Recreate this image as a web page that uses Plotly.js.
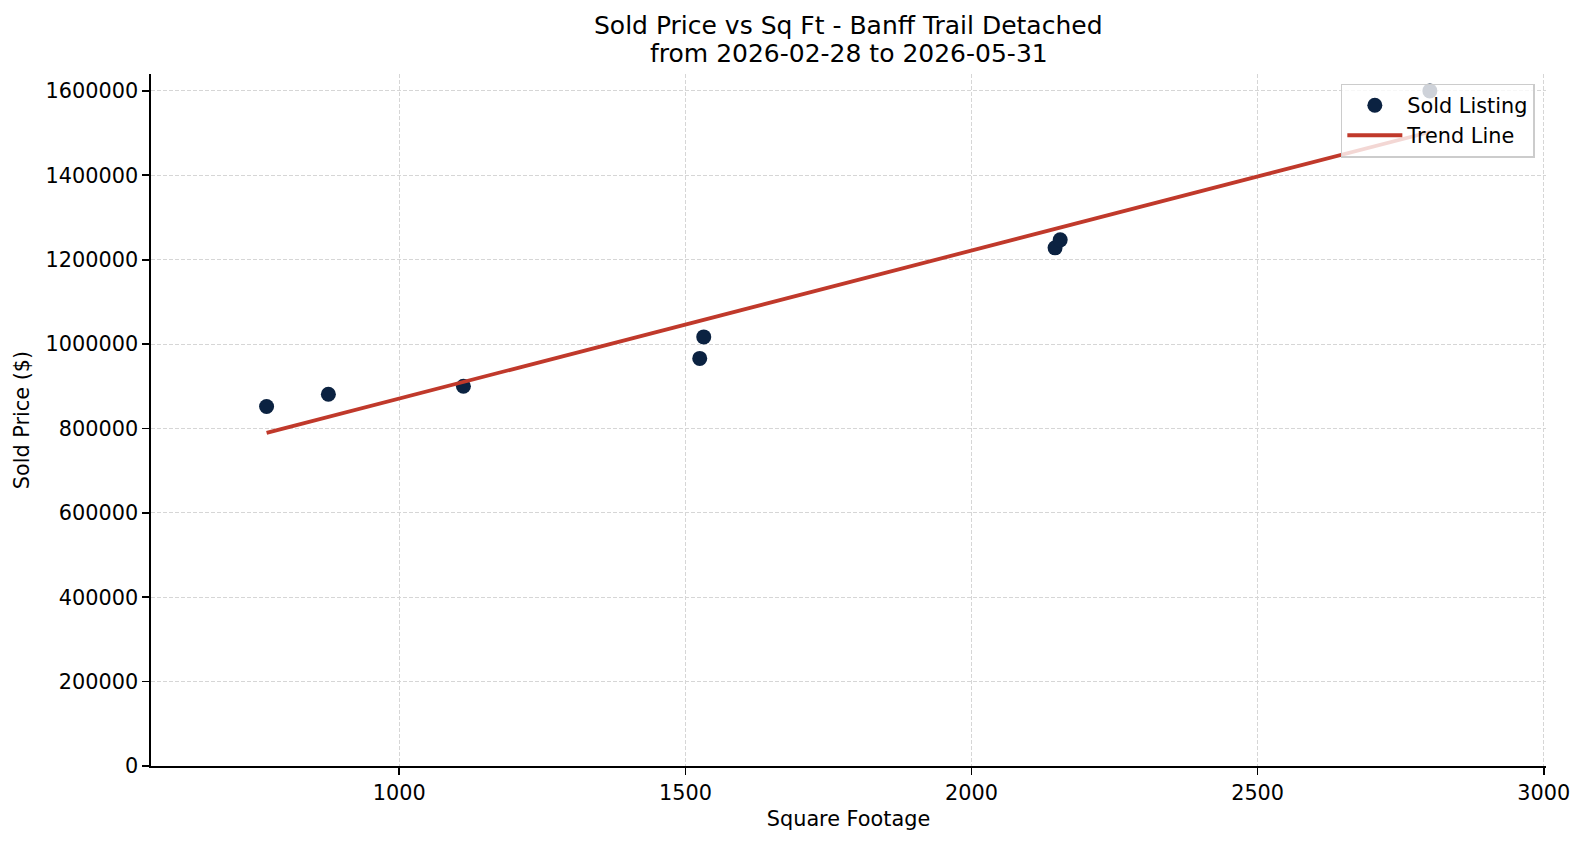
<!DOCTYPE html>
<html>
<head>
<meta charset="utf-8">
<script src="https://cdn.plot.ly/plotly-3.0.1.min.js"></script>
<style>
  html, body { margin: 0; padding: 0; background: #ffffff; }
  #chart { width: 1584px; height: 845px; }
</style>
</head>
<body>
<div id="chart"></div>
<script>
// Sold listings: living area (sq ft) and final sold price ($)
const sqft  = [768, 876, 1112, 1525, 1532, 2146, 2155, 2801];
const price = [852000, 881000, 900000, 966000, 1017000, 1228000, 1247000, 1600000];

const xTicks = [1000, 1500, 2000, 2500, 3000];
const yTicks = [0, 200000, 400000, 600000, 800000, 1000000, 1200000, 1400000, 1600000];

const titleLines = ['Sold Price vs Sq Ft - Banff Trail Detached', 'from 2026-02-28 to 2026-05-31'];

// Least-squares trend line over the sold listings
function linearFit(xs, ys) {
  const n = xs.length;
  const mx = xs.reduce((a, b) => a + b, 0) / n;
  const my = ys.reduce((a, b) => a + b, 0) / n;
  let sxy = 0, sxx = 0;
  for (let i = 0; i < n; i++) {
    sxy += (xs[i] - mx) * (ys[i] - my);
    sxx += (xs[i] - mx) * (xs[i] - mx);
  }
  const slope = sxy / sxx;
  return { slope, intercept: my - slope * mx };
}
const fit = linearFit(sqft, price);
const xMin = Math.min(...sqft), xMax = Math.max(...sqft);
const trendX = [xMin, xMax];
const trendY = trendX.map(v => fit.intercept + fit.slope * v);

const FONT = 'DejaVu Sans, Liberation Sans, sans-serif';

const traces = [
  {
    x: sqft, y: price, type: 'scatter', mode: 'markers', name: 'Sold Listing',
    marker: { color: '#0b2241', size: 15, line: { width: 0 } },
    hoverinfo: 'x+y'
  },
  {
    x: trendX, y: trendY, type: 'scatter', mode: 'lines', name: 'Trend Line',
    line: { color: '#c0392b', width: 3.8 },
    hoverinfo: 'skip'
  }
];

const axisCommon = {
  showline: true, linecolor: '#000000', linewidth: 1.7,
  ticks: 'outside', ticklen: 7, tickwidth: 1.7, tickcolor: '#000000',
  showgrid: true, gridcolor: '#d6d6d6', gridwidth: 1, griddash: '4px,2px',
  zeroline: false, mirror: false,
  tickfont: { family: FONT, size: 20.8, color: '#000000' },
  tickformat: 'd', automargin: false
};

// Two-line chart title, centred over the plot area
const titleAnnotations = [
  { text: titleLines[0], y: 1.0704 },
  { text: titleLines[1], y: 1.0296 }
].map(t => ({
  text: t.text, xref: 'paper', yref: 'paper', x: 0.5, y: t.y,
  xanchor: 'center', yanchor: 'middle', showarrow: false,
  font: { family: FONT, size: 25, color: '#000000' }
}));

const layout = {
  width: 1584, height: 845,
  paper_bgcolor: '#ffffff', plot_bgcolor: '#ffffff',
  font: { family: FONT, color: '#000000' },
  margin: { l: 151, r: 38, t: 74, b: 79 },
  annotations: titleAnnotations,
  xaxis: Object.assign({}, axisCommon, {
    range: [566, 3004],
    tickmode: 'array', tickvals: xTicks,
    title: { text: 'Square Footage', font: { family: FONT, size: 20.8, color: '#000000' }, standoff: 8 }
  }),
  yaxis: Object.assign({}, axisCommon, {
    range: [0, 1640000],
    tickmode: 'array', tickvals: yTicks,
    title: { text: 'Sold Price ($)', font: { family: FONT, size: 20.8, color: '#000000' }, standoff: 10 }
  }),
  showlegend: true,
  legend: {
    x: 0.992, xanchor: 'right', y: 0.986, yanchor: 'top',
    bgcolor: 'rgba(255,255,255,0.8)', bordercolor: '#cccccc', borderwidth: 1.5,
    font: { family: FONT, size: 20.8, color: '#000000' },
    itemwidth: 55, tracegroupgap: 0
  }
};

Plotly.newPlot('chart', traces, layout, { displayModeBar: false, staticPlot: true });
</script>
</body>
</html>
